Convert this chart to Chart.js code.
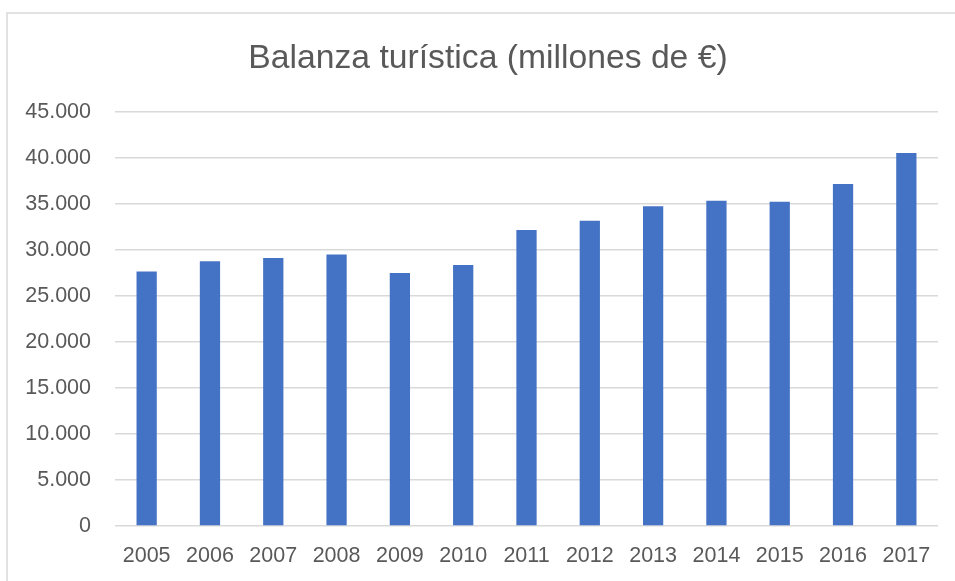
<!DOCTYPE html>
<html>
<head>
<meta charset="utf-8">
<script src="https://cdn.jsdelivr.net/npm/chart.js@4"></script>
<style>
  html, body { margin: 0; padding: 0; background: #fff; }
  #wrap { width: 955px; height: 581px; position: relative; }
</style>
</head>
<body>
<div id="wrap"><canvas id="balanzaChart" width="955" height="581"></canvas></div>
<script>
// Datos
const years = ['2005', '2006', '2007', '2008', '2009', '2010', '2011', '2012', '2013', '2014', '2015', '2016', '2017'];
const balance = [27670, 28760, 29130, 29520, 27500, 28370, 32170, 33180, 34740, 35360, 35250, 37170, 40540];
const yTicks = [0, 5000, 10000, 15000, 20000, 25000, 30000, 35000, 40000, 45000];

const textColor = '#595959';
const gridColor = '#d9d9d9';

// thin frame round the chart, like the Excel chart border
const frame = {
    id: 'frame',
    afterLayout(chart) {
        // Excel centres the title a little to the right of the canvas centre
        if (chart.titleBlock) {
            chart.titleBlock.left += 8;
            chart.titleBlock.right += 8;
        }
    },
    beforeDraw(chart) {
        const c = chart.ctx;
        c.save();
        c.fillStyle = '#fff';
        c.fillRect(0, 0, chart.width, chart.height);
        c.strokeStyle = gridColor;
        c.lineWidth = 1.5;
        c.beginPath();
        c.moveTo(7, chart.height + 5);
        c.lineTo(7, 13);
        c.lineTo(chart.width + 5, 13);
        c.stroke();
        c.restore();
    }
};

const fmt = v => v === 0 ? '0' : v.toLocaleString('de-DE');

const ctx = document.getElementById('balanzaChart').getContext('2d');

new Chart(ctx, {
    type: 'bar',
    data: {
        labels: years,
        datasets: [{
            label: 'Balanza turística',
            data: balance,
            backgroundColor: '#4472c4',
            borderWidth: 0,
            categoryPercentage: 0.32,
            barPercentage: 1
        }]
    },
    options: {
        responsive: false,
        animation: false,
        layout: { padding: { left: 22, right: 17, top: 0, bottom: 0 } },
        plugins: {
            legend: { display: false },
            tooltip: { enabled: false },
            title: {
                display: true,
                text: 'Balanza turística (millones de €)',
                color: textColor,
                font: { family: 'Liberation Sans', size: 33.7, weight: 'normal', lineHeight: 1.2 },
                padding: { top: 38.5, bottom: 33 }
            }
        },
        scales: {
            x: {
                grid: { display: false, drawTicks: false },
                border: { display: false },
                afterFit(scale) { scale.height = 55; },
                ticks: {
                    color: textColor,
                    padding: 17,
                    maxRotation: 0,
                    font: { family: 'Liberation Sans', size: 21.5 }
                }
            },
            y: {
                min: 0,
                max: 45000,
                afterBuildTicks(scale) {
                    scale.ticks = yTicks.map(v => ({ value: v }));
                },
                afterFit(scale) { scale.width = 93; },
                grid: { color: gridColor, lineWidth: 1.5, drawTicks: false },
                border: { display: false },
                ticks: {
                    color: textColor,
                    padding: 24,
                    font: { family: 'Liberation Sans', size: 21.5 },
                    callback: v => fmt(v)
                }
            }
        }
    },
    plugins: [frame]
});
</script>
</body>
</html>
